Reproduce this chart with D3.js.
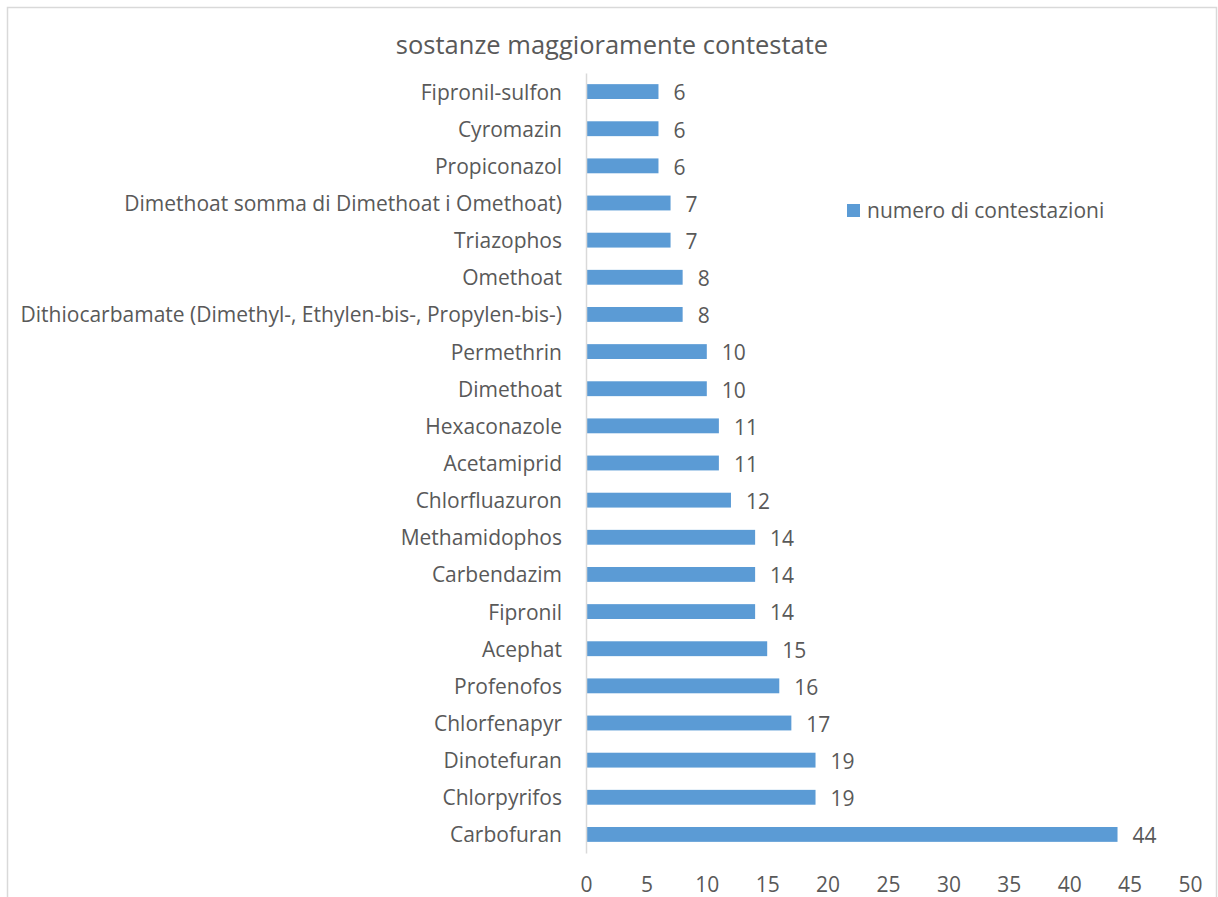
<!DOCTYPE html>
<html>
<head>
<meta charset="utf-8">
<script src="https://cdn.jsdelivr.net/npm/d3@7"></script>
<style>
  body { margin: 0; background: #fff; }
  text { font-family: "Open Sans", "Liberation Sans", sans-serif; fill: #595959; }
</style>
</head>
<body>
<div id="chart"></div>
<script>
// data, top to bottom as drawn
const categories = [
    "Fipronil-sulfon", "Cyromazin", "Propiconazol",
    "Dimethoat somma di Dimethoat i Omethoat)", "Triazophos", "Omethoat",
    "Dithiocarbamate (Dimethyl-, Ethylen-bis-, Propylen-bis-)",
    "Permethrin", "Dimethoat", "Hexaconazole", "Acetamiprid",
    "Chlorfluazuron", "Methamidophos", "Carbendazim", "Fipronil",
    "Acephat", "Profenofos", "Chlorfenapyr", "Dinotefuran",
    "Chlorpyrifos", "Carbofuran"
];
const values = [6, 6, 6, 7, 7, 8, 8, 10, 10, 11, 11, 12, 14, 14, 14, 15, 16, 17, 19, 19, 44];
const xTicks = [0, 5, 10, 15, 20, 25, 30, 35, 40, 45, 50];
const seriesName = "numero di contestazioni";
const title = "sostanze maggioramente contestate";

function draw() {
    const W = 1218, H = 897;
    const svg = d3.select("#chart").append("svg")
        .attr("width", W).attr("height", H);

    svg.append("rect").attr("width", W).attr("height", H).attr("fill", "#fff");
    // chart border (bottom is cut off in the reference)
    svg.append("rect")
        .attr("x", 7.5).attr("y", 7.5)
        .attr("width", 1209).attr("height", 920)
        .attr("fill", "none").attr("stroke", "#d9d9d9").attr("stroke-width", 1.5);

    const plot = {l: 586, r: 1190, t: 73, b: 853};

    const x = d3.scaleLinear().domain([0, 50]).range([plot.l, plot.r]);
    const y = d3.scaleBand().domain(categories).range([plot.t, plot.b]).paddingInner(0.6).paddingOuter(0.3);

    // title
    svg.append("text")
        .attr("x", 612).attr("y", 54)
        .attr("text-anchor", "middle")
        .style("font-size", "25.5px")
        .text(title);

    // bars
    svg.selectAll("rect.bar")
        .data(values)
        .enter().append("rect")
        .attr("class", "bar")
        .attr("x", x(0))
        .attr("y", (d, i) => y(categories[i]))
        .attr("width", d => x(d) - x(0))
        .attr("height", y.bandwidth())
        .attr("fill", "#5b9bd5");

    // value labels
    svg.selectAll("text.val")
        .data(values)
        .enter().append("text")
        .attr("class", "val")
        .attr("x", d => x(d) + 15)
        .attr("y", (d, i) => y(categories[i]) + y.bandwidth() / 2)
        .attr("dy", "0.42em")
        .style("font-size", "21px")
        .text(d => d);

    // y axis
    const axisY = d3.axisLeft(y).tickSize(0).tickPadding(24);
    const gy = svg.append("g")
        .attr("transform", `translate(${plot.l},0)`)
        .call(axisY);
    gy.select(".domain").attr("stroke", "#d9d9d9").attr("stroke-width", 1.5);
    gy.selectAll("text")
        .style("font-size", "21px")
        .style("font-family", "'Open Sans', sans-serif")
        .attr("dy", "0.38em")
        .attr("fill", "#595959");

    // x axis (labels only)
    const axisX = d3.axisBottom(x).tickValues(xTicks).tickSize(0).tickPadding(0);
    const gx = svg.append("g")
        .attr("transform", `translate(0,877)`)
        .call(axisX);
    gx.select(".domain").remove();
    gx.selectAll("text")
        .style("font-size", "21px")
        .style("font-family", "'Open Sans', sans-serif")
        .attr("fill", "#595959");

    // legend
    svg.append("rect")
        .attr("x", 847).attr("y", 204)
        .attr("width", 13).attr("height", 13)
        .attr("fill", "#5b9bd5");
    svg.append("text")
        .attr("x", 867).attr("y", 218)
        .style("font-size", "21px")
        .text(seriesName);
}

draw();
</script>
</body>
</html>
